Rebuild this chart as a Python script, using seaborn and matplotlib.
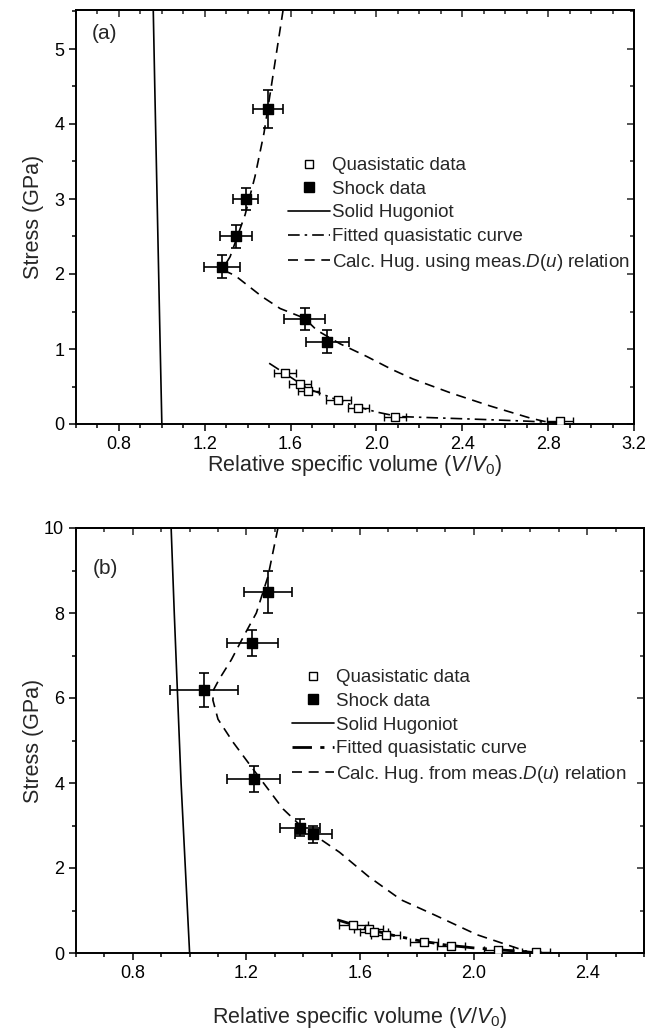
import numpy as np
import pandas as pd
import matplotlib
matplotlib.use('Agg')
import matplotlib.pyplot as plt
import seaborn as sns
from matplotlib.lines import Line2D
from matplotlib.ticker import MultipleLocator, FormatStrFormatter

sns.set_theme(style='ticks')
plt.rcParams['font.family'] = ['Liberation Sans', 'DejaVu Sans']
plt.rcParams['mathtext.fontset'] = 'custom'
plt.rcParams['mathtext.rm'] = 'Liberation Sans'
plt.rcParams['mathtext.it'] = 'Liberation Sans:italic'

# ---------------- Panel (a) data ----------------
qs_a_v = [1.574, 1.644, 1.683, 1.823, 1.916, 2.087, 2.856]
qs_a_s = [0.675, 0.53, 0.44, 0.32, 0.21, 0.10, 0.04]
qs_a_verr = [0.05, 0.05, 0.05, 0.06, 0.05, 0.05, 0.06]
qs_a_serr = [0.03, 0.03, 0.03, 0.03, 0.03, 0.03, 0.03]

sh_a_v = [1.495, 1.39, 1.346, 1.28, 1.665, 1.77]
sh_a_s = [4.2, 3.0, 2.5, 2.1, 1.4, 1.1]
sh_a_verr = [0.07, 0.06, 0.075, 0.085, 0.095, 0.10]
sh_a_serr = [0.25, 0.15, 0.15, 0.15, 0.15, 0.15]

hug_a_v = [0.960, 0.967, 0.975, 0.983, 0.991, 1.0]
hug_a_s = [5.52, 4.5, 3.4, 2.3, 1.2, 0.0]

fit_a_v = [1.50, 1.57, 1.65, 1.70, 1.80, 1.90, 2.00, 2.10, 2.20, 2.35, 2.50, 2.70, 2.82, 2.88]
fit_a_s = [0.81, 0.68, 0.53, 0.45, 0.34, 0.24, 0.16, 0.10, 0.09, 0.075, 0.06, 0.038, 0.02, 0.0]

calc_a_v = [1.565, 1.512, 1.476, 1.434, 1.388, 1.318, 1.290, 1.295, 1.341, 1.466, 1.551,
            1.665, 1.722, 1.77, 1.83, 1.955, 2.07, 2.17, 2.35, 2.53, 2.715, 2.78, 2.85]
calc_a_s = [5.52, 4.54, 3.88, 3.30, 2.79, 2.23, 2.10, 2.04, 1.98, 1.70, 1.54,
            1.41, 1.25, 1.17, 1.07, 0.90, 0.73, 0.60, 0.41, 0.24, 0.08, 0.036, 0.0]

# ---------------- Panel (b) data ----------------
qs_b_v = [1.577, 1.63, 1.65, 1.69, 1.826, 1.921, 2.087, 2.22]
qs_b_s = [0.65, 0.57, 0.50, 0.43, 0.27, 0.16, 0.08, 0.025]
qs_b_verr = [0.05, 0.05, 0.05, 0.05, 0.05, 0.05, 0.05, 0.05]
qs_b_serr = [0.05, 0.05, 0.05, 0.05, 0.05, 0.05, 0.05, 0.05]

sh_b_v = [1.275, 1.22, 1.05, 1.225, 1.39, 1.435]
sh_b_s = [8.5, 7.3, 6.2, 4.1, 2.95, 2.8]
sh_b_verr = [0.085, 0.09, 0.12, 0.092, 0.07, 0.065]
sh_b_serr = [0.5, 0.3, 0.4, 0.3, 0.2, 0.2]

hug_b_v = [0.935, 0.946, 0.958, 0.970, 0.985, 1.0]
hug_b_s = [10.0, 8.0, 6.0, 4.0, 2.0, 0.0]

fit_b_v = [1.52, 1.60, 1.70, 1.80, 1.90, 2.00, 2.10, 2.20, 2.24]
fit_b_s = [0.78, 0.62, 0.44, 0.30, 0.19, 0.12, 0.07, 0.025, 0.0]

calc_b_v = [1.311, 1.276, 1.235, 1.19, 1.147, 1.105, 1.085, 1.082, 1.10, 1.153, 1.223,
            1.329, 1.39, 1.528, 1.63, 1.745, 1.861, 2.012, 2.186, 2.25]
calc_b_s = [10.0, 8.86, 8.0, 7.45, 6.9, 6.45, 6.2, 5.95, 5.5, 4.96, 4.33,
            3.39, 3.0, 2.37, 1.80, 1.25, 0.90, 0.43, 0.04, 0.0]

labels_a = ['Quasistatic data', 'Shock data', 'Solid Hugoniot', 'Fitted quasistatic curve',
            'Calc. Hug. using meas.$D$($u$) relation']
labels_b = ['Quasistatic data', 'Shock data', 'Solid Hugoniot', 'Fitted quasistatic curve',
            'Calc. Hug. from meas.$D$($u$) relation']

DASH = (0, (6, 4))
DASHDOT = (0, (7, 3, 1.5, 3))

W, H = 647, 1031
fig = plt.figure(figsize=(W / 100, H / 100), dpi=100)

TICK_FS = 13
LABEL_FS = 15.5
LEG_FS = 13.5


def px_axes(l, r, t, b):
    return fig.add_axes([l / W, 1 - b / H, (r - l) / W, (b - t) / H])


def draw(ax, qs_v, qs_s, qs_verr, qs_serr, sh_v, sh_s, sh_verr, sh_serr,
         hug_v, hug_s, fit_v, fit_s, calc_v, calc_s, fit_lw):
    sns.lineplot(x=hug_v, y=hug_s, sort=False, estimator=None, color='black', lw=1.2, ax=ax)
    sns.lineplot(x=fit_v, y=fit_s, sort=False, estimator=None, color='black', lw=fit_lw,
                 linestyle=DASHDOT, ax=ax)
    sns.lineplot(x=calc_v, y=calc_s, sort=False, estimator=None, color='black', lw=1.2,
                 linestyle=DASH, ax=ax)
    ax.errorbar(qs_v, qs_s, xerr=qs_verr, yerr=qs_serr, fmt='none', ecolor='black',
                elinewidth=1, capsize=3, capthick=1, zorder=3)
    ax.errorbar(sh_v, sh_s, xerr=sh_verr, yerr=sh_serr, fmt='none', ecolor='black',
                elinewidth=1.2, capsize=3.5, capthick=1.2, zorder=3)
    sns.scatterplot(x=qs_v, y=qs_s, marker='s', s=30, color='white', edgecolor='black',
                    linewidth=1, ax=ax, zorder=4)
    sns.scatterplot(x=sh_v, y=sh_s, marker='s', s=45, color='black', edgecolor='black',
                    linewidth=1, ax=ax, zorder=4)
    handles = [
        Line2D([], [], marker='s', ls='none', mfc='white', mec='black', ms=6, mew=1),
        Line2D([], [], marker='s', ls='none', mfc='black', mec='black', ms=7),
        Line2D([], [], color='black', lw=1.2),
        Line2D([], [], color='black', lw=fit_lw, ls=DASHDOT),
        Line2D([], [], color='black', lw=1.2, ls=DASH),
    ]
    return handles


def style_axes(ax, xlim, ylim, xmaj, xmin, ymaj, ymin, xlabel, xlab_y, ylab_x):
    ax.set_xlim(*xlim)
    ax.set_ylim(*ylim)
    ax.xaxis.set_major_locator(MultipleLocator(xmaj))
    ax.xaxis.set_minor_locator(MultipleLocator(xmin))
    ax.yaxis.set_major_locator(MultipleLocator(ymaj))
    ax.yaxis.set_minor_locator(MultipleLocator(ymin))
    ax.xaxis.set_major_formatter(FormatStrFormatter('%.1f'))
    ax.yaxis.set_major_formatter(FormatStrFormatter('%g'))
    ax.tick_params(which='both', direction='out', top=False, right=False, width=1.1,
                   labelsize=TICK_FS, colors='black')
    ax.tick_params(which='major', length=5)
    ax.tick_params(which='minor', length=3)
    for sp in ax.spines.values():
        sp.set_linewidth(1.4)
        sp.set_color('black')
    ax.set_xlabel(xlabel, fontsize=LABEL_FS)
    ax.set_ylabel('Stress (GPa)', fontsize=LABEL_FS)
    ax.xaxis.set_label_coords(0.5, xlab_y)
    ax.yaxis.set_label_coords(ylab_x, 0.5)
    # inward mirror ticks on top and right
    sx = ax.secondary_xaxis('top')
    sx.xaxis.set_major_locator(MultipleLocator(xmaj))
    sx.xaxis.set_minor_locator(MultipleLocator(xmin))
    sx.tick_params(which='both', direction='in', labeltop=False, width=1.1)
    sx.tick_params(which='major', length=5)
    sx.tick_params(which='minor', length=3)
    sx.spines['top'].set_linewidth(1.4)
    sy = ax.secondary_yaxis('right')
    sy.yaxis.set_major_locator(MultipleLocator(ymaj))
    sy.yaxis.set_minor_locator(MultipleLocator(ymin))
    sy.tick_params(which='both', direction='in', labelright=False, width=1.1)
    sy.tick_params(which='major', length=5)
    sy.tick_params(which='minor', length=3)
    sy.spines['right'].set_linewidth(1.4)


xlabel = 'Relative specific volume ($V$/$V_0$)'
leg_kw = dict(loc='upper left', frameon=False, fontsize=LEG_FS, handlelength=2.24,
              handletextpad=0.1, labelspacing=0.35, borderaxespad=0, borderpad=0)

# Panel (a)  axes px: left 76, right 634, top 10, bottom 424
axa = px_axes(76, 634, 10, 424)
ha = draw(axa, qs_a_v, qs_a_s, qs_a_verr, qs_a_serr, sh_a_v, sh_a_s, sh_a_verr, sh_a_serr,
          hug_a_v, hug_a_s, fit_a_v, fit_a_s, calc_a_v, calc_a_s, 1.2)
style_axes(axa, (0.6, 3.2), (0, 5.52), 0.4, 0.1, 1, 0.5, xlabel,
           (424 - 453) / 414, (44 - 76) / 558)
axa.legend(ha, labels_a, bbox_to_anchor=(0.38, 0.645), **leg_kw)
axa.text(0.029, 0.944, '(a)', transform=axa.transAxes, fontsize=15, va='center', ha='left')

# Panel (b)  axes px: left 76, right 644, top 528, bottom 953
axb = px_axes(76, 644, 528, 953)
hb = draw(axb, qs_b_v, qs_b_s, qs_b_verr, qs_b_serr, sh_b_v, sh_b_s, sh_b_verr, sh_b_serr,
          hug_b_v, hug_b_s, fit_b_v, fit_b_s, calc_b_v, calc_b_s, 2.0)
style_axes(axb, (0.6, 2.6), (0, 10), 0.4, 0.1, 2, 1, xlabel,
           (953 - 1005) / 425, (44 - 76) / 568)
axb.legend(hb, labels_b, bbox_to_anchor=(0.381, 0.668), **leg_kw)
axb.text(0.029, 0.905, '(b)', transform=axb.transAxes, fontsize=15, va='center', ha='left')

fig.savefig('out.png', dpi=100)
